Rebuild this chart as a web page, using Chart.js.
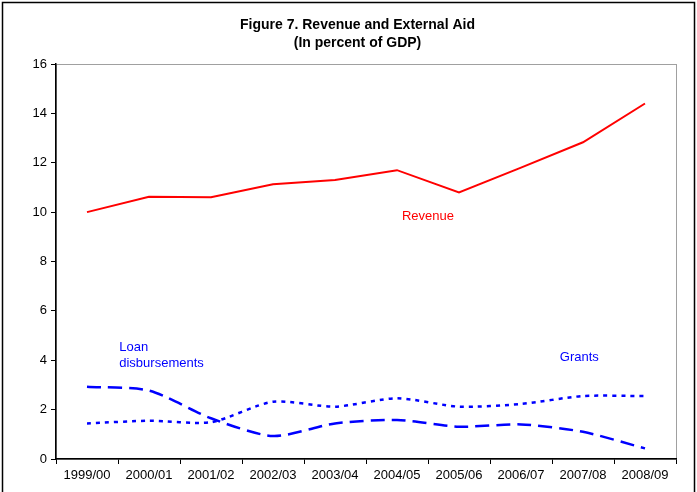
<!DOCTYPE html>
<html>
<head>
<meta charset="utf-8">
<script src="https://cdn.jsdelivr.net/npm/chart.js@4"></script>
<style>
  html, body { margin: 0; padding: 0; background: #fff; }
  #wrap { position: relative; width: 697px; height: 492px; }
</style>
</head>
<body>
<div id="wrap"><canvas id="chart" width="697" height="492"></canvas></div>
<script>
// data
const years = ["1999/00", "2000/01", "2001/02", "2002/03", "2003/04", "2004/05", "2005/06", "2006/07", "2007/08", "2008/09"];
const revenue = [10.0, 10.62, 10.6, 11.13, 11.3, 11.7, 10.8, 11.8, 12.83, 14.4];
const loans = [2.93, 2.77, 1.65, 0.93, 1.44, 1.58, 1.31, 1.4, 1.1, 0.43];
const grants = [1.44, 1.55, 1.49, 2.32, 2.12, 2.46, 2.12, 2.23, 2.55, 2.55];
const titleLines = ["Figure 7. Revenue and External Aid", "(In percent of GDP)"];
const yTicks = [0, 2, 4, 6, 8, 10, 12, 14, 16];

// series labels placed in data space: text lines, x index, y value
const seriesLabels = [
  { lines: ["Revenue"], x: 5.5, y: 9.84, align: "center", color: "#ff0000" },
  { lines: ["Loan", "disbursements"], x: 0.52, y: 4.53, align: "left", color: "#0000ff" },
  { lines: ["Grants"], x: 7.94, y: 4.13, align: "center", color: "#0000ff" }
];

const FONT = "'Liberation Sans', Arial, sans-serif";

const framePlugin = {
  id: "frame",
  beforeDraw(chart) {
    const ctx = chart.ctx;
    ctx.save();
    ctx.fillStyle = "#fff";
    ctx.fillRect(0, 0, chart.width, chart.height);
    ctx.strokeStyle = "#000";
    ctx.lineWidth = 1.5;
    ctx.strokeRect(2.5, 2.5, 692, 600);
    // light box around plot area (top and right edges show)
    const a = chart.chartArea;
    ctx.strokeStyle = "#a0a0a0";
    ctx.lineWidth = 1;
    ctx.strokeRect(a.left + 0.5, a.top + 0.5, a.right - a.left, a.bottom - a.top);
    ctx.restore();
  },
  afterDraw(chart) {
    const ctx = chart.ctx;
    const cx = chart.width / 2 + 9;
    ctx.save();
    ctx.fillStyle = "#000";
    ctx.font = "bold 14px " + FONT;
    ctx.textAlign = "center";
    ctx.textBaseline = "middle";
    ctx.fillText(titleLines[0], cx, 25);
    ctx.fillText(titleLines[1], cx, 43);

    const xs = chart.scales.x, ys = chart.scales.y;
    ctx.font = "13px " + FONT;
    seriesLabels.forEach(l => {
      const px = xs.getPixelForValue(0) + l.x * (xs.getPixelForValue(1) - xs.getPixelForValue(0));
      const py = ys.getPixelForValue(l.y);
      ctx.fillStyle = l.color;
      ctx.textAlign = l.align;
      l.lines.forEach((t, i) => ctx.fillText(t, px, py + i * 16.5));
    });
    ctx.restore();
  }
};

new Chart(document.getElementById("chart").getContext("2d"), {
  type: "line",
  data: {
    labels: years,
    datasets: [
      {
        label: "Revenue",
        data: revenue,
        borderColor: "#ff0000",
        borderWidth: 2,
        pointRadius: 0,
        tension: 0
      },
      {
        label: "Loan disbursements",
        data: loans,
        borderColor: "#0000ff",
        borderWidth: 2.5,
        borderDash: [14, 7],
        pointRadius: 0,
        tension: 0.25
      },
      {
        label: "Grants",
        data: grants,
        borderColor: "#0000ff",
        borderWidth: 2.5,
        borderDash: [4, 5],
        pointRadius: 0,
        tension: 0.25
      }
    ]
  },
  options: {
    responsive: false,
    animation: false,
    layout: { padding: { top: 64, right: 21, left: 0, bottom: 0 } },
    plugins: {
      legend: { display: false },
      title: { display: false },
      tooltip: { enabled: false }
    },
    scales: {
      x: {
        offset: true,
        grid: { drawOnChartArea: false, drawTicks: true, tickLength: 5, color: "#000", offset: true },
        border: { color: "#000", width: 1.5 },
        ticks: { color: "#000", font: { size: 13, family: FONT }, padding: 4, maxRotation: 0, autoSkip: false },
        afterFit(scale) { scale.height = 33; }
      },
      y: {
        min: 0,
        max: 16,
        afterBuildTicks(scale) { scale.ticks = yTicks.map(v => ({ value: v })); },
        grid: { drawOnChartArea: false, drawTicks: true, tickLength: 5, color: "#000" },
        border: { color: "#000", width: 1.5 },
        ticks: { color: "#000", font: { size: 13, family: FONT }, padding: 4 },
        afterFit(scale) { scale.width = 56; }
      }
    }
  },
  plugins: [framePlugin]
});
</script>
</body>
</html>
